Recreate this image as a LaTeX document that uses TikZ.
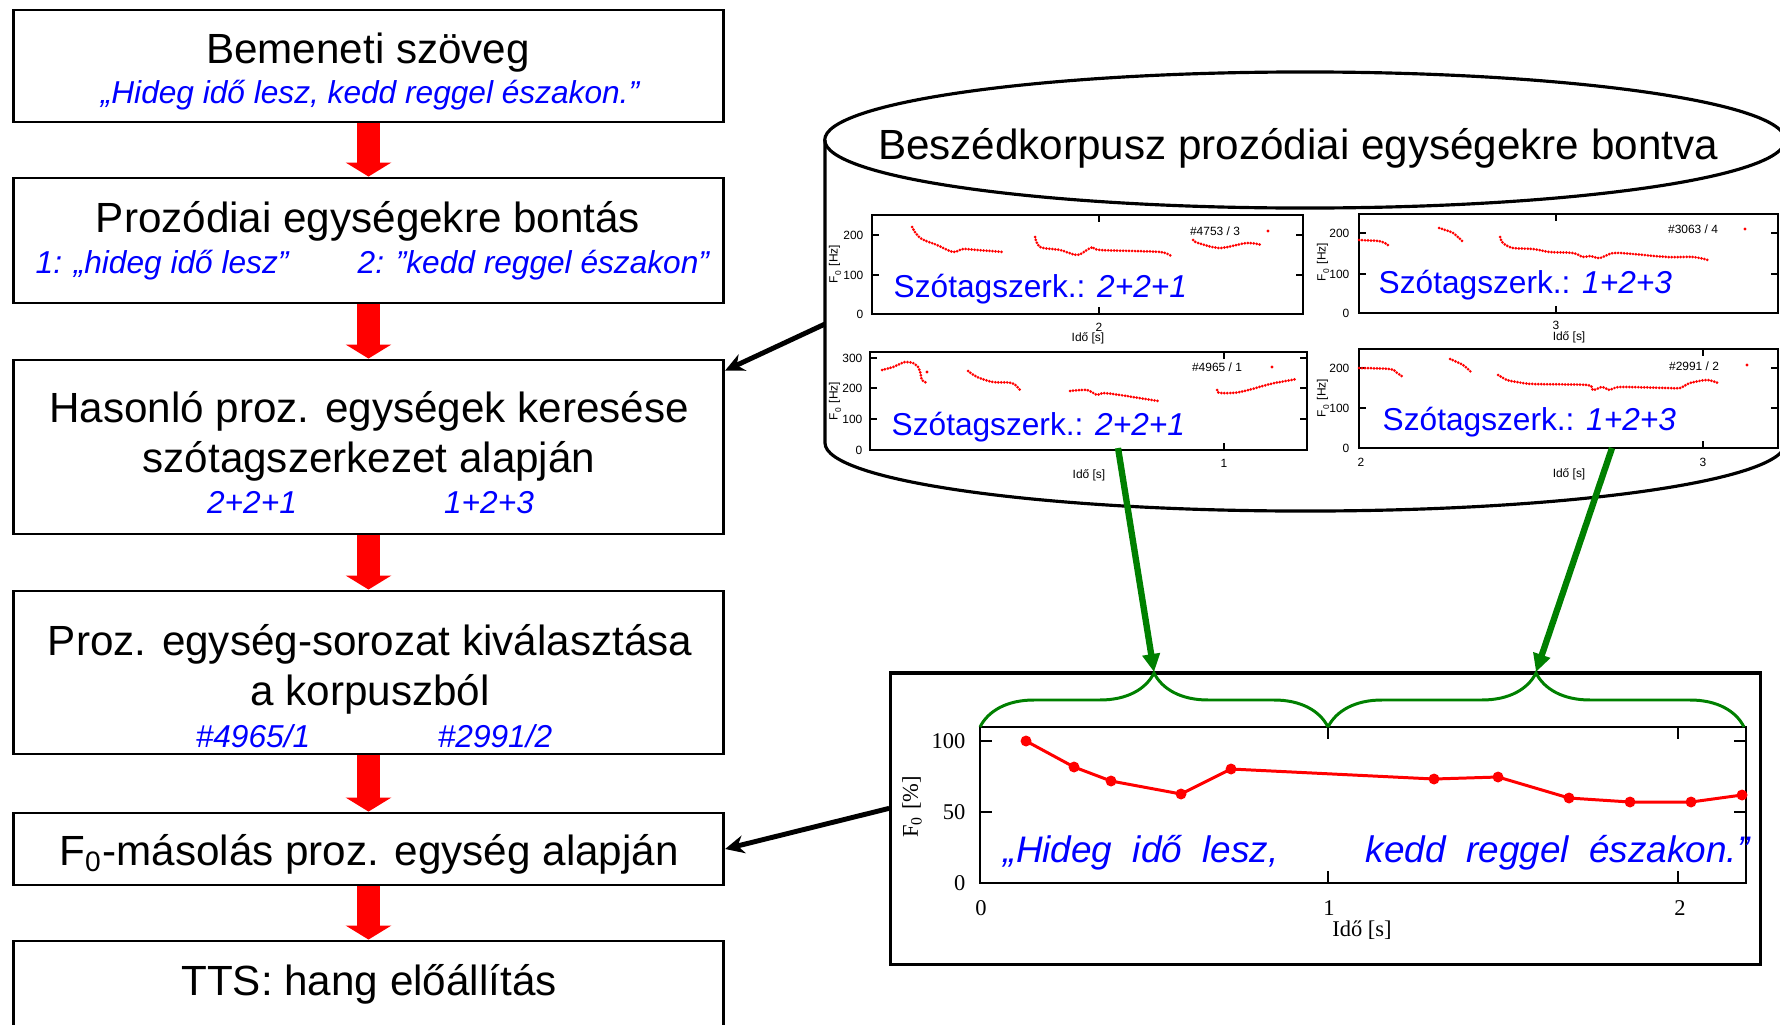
\documentclass[tikz,border=0pt]{standalone}
\usepackage{fontspec}
\setmainfont{Liberation Sans}
\newfontfamily\plotserif{Liberation Serif}
\usetikzlibrary{arrows.meta,decorations.pathreplacing,backgrounds,calc}

\begin{document}
\begin{tikzpicture}[x=0.01cm, y=-0.01cm,
 box/.style={draw, line width=0.8pt, minimum width=7.1cm, inner sep=0pt},
 boxtitle/.style={anchor=base, inner sep=0pt, font=\fontsize{12}{14}\selectfont},
 note/.style={anchor=base, inner sep=0pt, text=blue, font=\fontsize{9}{11}\selectfont\itshape},
 flow/.style={red, line width=0.23cm, -{Triangle[width=0.45cm,length=0.14cm]}},
 link/.style={line width=1.4pt, -{Stealth[length=0.19cm,width=0.18cm]}},
 pick/.style={green!50!black, line width=1.8pt, -{Triangle[length=0.18cm,width=0.17cm]}},
 pbox/.style={line width=0.45pt},
 reddots/.style={red, line width=0.85pt, dash pattern=on 0pt off 0.85pt, line cap=round},
 axlab/.style={inner sep=0pt, font=\fontsize{3.4}{4}\selectfont},
 syl/.style={anchor=base west, inner sep=0pt, text=blue, font=\fontsize{9}{11}\selectfont},
 serifax/.style={inner sep=0pt, font=\plotserif\fontsize{6.4}{7}\selectfont},
 brc/.style={green!50!black, line width=0.85pt, decorate, decoration={brace, amplitude=0.54cm}}]
\useasboundingbox (0,0) rectangle (1780,1024);
\clip (0,0) rectangle (1780,1024);

% folyamat
\node[box, minimum height=1.12cm] (b1) at (368.5,66) {};
\node[box, minimum height=1.25cm] (b2) at (368.5,240.5) {};
\node[box, minimum height=1.74cm] (b3) at (368.5,447) {};
\node[box, minimum height=1.63cm] (b4) at (368.5,672.5) {};
\node[box, minimum height=0.72cm] (b5) at (368.5,849) {};
\node[box, minimum height=1.04cm] (b6) at (368.5,993) {};

\node[boxtitle] (t1) at (368,63) {Bemeneti szöveg};
\node[note] (q1) at (370,103) {„Hideg idő lesz, kedd reggel északon.”};
\node[boxtitle] (t2) at (368,232) {Prozódiai egységekre bontás};
\node[note, anchor=base west] (q2a) at (35,273) {1: „hideg idő lesz”};
\node[note, anchor=base west] (q2b) at (357,273) {2: ”kedd reggel északon”};
\node[boxtitle] (t3a) at (369,422) {Hasonló proz. egységek keresése};
\node[boxtitle] (t3b) at (369,472) {szótagszerkezet alapján};
\node[note] (q3a) at (252,513) {2+2+1};
\node[note] (q3b) at (489,513) {1+2+3};
\node[boxtitle] (t4a) at (370,655) {Proz. egység-sorozat kiválasztása};
\node[boxtitle] (t4b) at (370,705) {a korpuszból};
\node[note] (q4a) at (253,747) {\#4965/1};
\node[note] (q4b) at (495,747) {\#2991/2};
\node[boxtitle] (t5) at (369,865) {F\textsubscript{0}-másolás proz. egység alapján};
\node[boxtitle] (t6) at (369,995) {TTS: hang előállítás};

\begin{scope}[on background layer]
\foreach \a/\b in {b1/b2,b2/b3,b3/b4,b4/b5,b5/b6}
  \draw[flow] (\a.south) -- (\b.north);
\end{scope}

% korpusz
\draw[line width=0.9pt] (1305,140) ellipse [x radius=4.8cm, y radius=0.68cm];
\draw[line width=0.9pt] (825,140) -- (825,443)
  arc [start angle=180, end angle=360, x radius=4.8cm, y radius=0.68cm] -- (1785,140);
\node[boxtitle] (kt) at (1298,159) {Beszédkorpusz prozódiai egységekre bontva};
\coordinate (kl) at (825,324);

% 1. minta
\draw[pbox] (872,215) rectangle (1303,314)
  (872,235) -- +(7,0) (872,275) -- +(7,0) (1303,235) -- +(-7,0) (1303,275) -- +(-7,0)
  (1099,215) -- +(0,7) (1099,314) -- +(0,-7);
\foreach \y/\t [count=\i] in {235/200,275/100,314/0}
  \node[axlab, anchor=east] (ya\i) at (864,\y) {\t};
\node[axlab, rotate=90] (fa) at (835,264) {F\textsubscript{0} [Hz]};
\node[axlab] (xa) at (1099,327) {2};
\node[axlab] (ia) at (1088,338) {Idő [s]};
\node[axlab] (ka) at (1215,231) {\#4753 / 3};
\fill[red] (1268,231) circle (0.45pt);
\draw[reddots] plot[smooth] coordinates {(912,227) (920,238) (937,245) (953,252) (963,249) (977,250) (1003,252)};
\draw[reddots] plot[smooth] coordinates {(1035,237) (1040,247) (1060,250) (1077,255) (1087,250) (1093,247) (1100,250) (1160,252) (1172,257)};
\draw[reddots] plot[smooth] coordinates {(1193,240) (1198,243) (1220,248) (1247,243) (1262,245)};
\node[syl] (sa) at (893,297) {Szótagszerk.: \textit{2+2+1}};

% 2. minta
\draw[pbox] (1359,214) rectangle (1778,313)
  (1359,233) -- +(7,0) (1359,274) -- +(7,0) (1778,233) -- +(-7,0) (1778,274) -- +(-7,0)
  (1556,214) -- +(0,7) (1556,313) -- +(0,-7);
\foreach \y/\t [count=\i] in {233/200,274/100,313/0}
  \node[axlab, anchor=east] (yb\i) at (1350,\y) {\t};
\node[axlab, rotate=90] (fb2) at (1323,262) {F\textsubscript{0} [Hz]};
\node[axlab] (xb) at (1556,325) {3};
\node[axlab] (ib) at (1569,337) {Idő [s]};
\node[axlab] (kb) at (1693,229) {\#3063 / 4};
\fill[red] (1745,229) circle (0.45pt);
\draw[reddots] plot[smooth] coordinates {(1359,240) (1378,241) (1385,243) (1390,247)};
\draw[reddots] plot[smooth] coordinates {(1439,228) (1453,233) (1463,242)};
\draw[reddots] plot[smooth] coordinates {(1500,237) (1503,243) (1513,248) (1533,249) (1550,252) (1573,253) (1583,257) (1590,256) (1600,258) (1613,253) (1633,254) (1667,257) (1693,257) (1708,260)};
\node[syl] (sb) at (1378,293) {Szótagszerk.: \textit{1+2+3}};

% 3. minta
\draw[pbox] (870,352) rectangle (1307,450)
  (870,358) -- +(7,0) (870,388) -- +(7,0) (870,419) -- +(7,0)
  (1307,358) -- +(-7,0) (1307,388) -- +(-7,0) (1307,419) -- +(-7,0)
  (1224,352) -- +(0,7) (1224,450) -- +(0,-7);
\foreach \y/\t [count=\i] in {358/300,388/200,419/100,450/0}
  \node[axlab, anchor=east] (yc\i) at (863,\y) {\t};
\node[axlab, rotate=90] (fc) at (835,401) {F\textsubscript{0} [Hz]};
\node[axlab] (xc) at (1224,463) {1};
\node[axlab] (ic) at (1089,475) {Idő [s]};
\node[axlab] (kc) at (1217,367) {\#4965 / 1};
\fill[red] (1272,367) circle (0.45pt);
\draw[reddots] plot[smooth] coordinates {(882,370) (893,367) (905,362) (913,363) (918,367) (920,371) (922,380) (927,383)};
\fill[red] (927,372) circle (0.45pt);
\draw[reddots] plot[smooth] coordinates {(968,371) (977,377) (993,382) (1012,383) (1020,390)};
\draw[reddots] plot[smooth] coordinates {(1070,391) (1087,390) (1097,395) (1103,393) (1120,395) (1158,401)};
\draw[reddots] plot[smooth] coordinates {(1217,390) (1220,393) (1240,392) (1270,384) (1280,382) (1297,379)};
\node[syl] (sc) at (891,435) {Szótagszerk.: \textit{2+2+1}};
\coordinate (g1) at (1118,448);

% 4. minta
\draw[pbox] (1359,349) rectangle (1778,448)
  (1359,368) -- +(7,0) (1359,408) -- +(7,0) (1778,368) -- +(-7,0) (1778,408) -- +(-7,0)
  (1703,349) -- +(0,7) (1703,448) -- +(0,-7);
\foreach \y/\t [count=\i] in {368/200,408/100,448/0}
  \node[axlab, anchor=east] (yd\i) at (1350,\y) {\t};
\node[axlab, rotate=90] (fd) at (1323,398) {F\textsubscript{0} [Hz]};
\node[axlab] (xd1) at (1361,462) {2};
\node[axlab] (xd2) at (1703,462) {3};
\node[axlab] (id) at (1569,474) {Idő [s]};
\node[axlab] (kd) at (1694,366) {\#2991 / 2};
\fill[red] (1747,365) circle (0.45pt);
\draw[reddots] plot[smooth] coordinates {(1359,368) (1390,369) (1397,373) (1403,377)};
\draw[reddots] plot[smooth] coordinates {(1450,359) (1463,365) (1472,373)};
\draw[reddots] plot[smooth] coordinates {(1498,375) (1507,380) (1517,382) (1533,384) (1587,385) (1593,390) (1602,387) (1610,390) (1620,387) (1667,388) (1680,388) (1690,383) (1707,380) (1718,383)};
\node[syl] (sd) at (1382,430) {Szótagszerk.: \textit{1+2+3}};
\coordinate (g2) at (1612,448);

% masolt F0
\node[draw, line width=0.9pt, minimum width=8.69cm, minimum height=2.91cm, inner sep=0pt] (fbox) at (1325.5,818.5) {};
\draw[line width=0.7pt] (980,727) rectangle (1746,883);
\foreach \y in {741,812}
  \draw[line width=0.7pt] (980,\y) -- +(12,0) (1746,\y) -- +(-12,0);
\foreach \x in {1328,1678}
  \draw[line width=0.7pt] (\x,727) -- +(0,12) (\x,883) -- +(0,-12);
\foreach \y/\t [count=\i] in {741/100,812/50,883/0}
  \node[serifax, anchor=east] (ye\i) at (966,\y) {\t};
\foreach \x/\t [count=\i] in {981/0,1329/1,1680/2}
  \node[serifax] (xe\i) at (\x,908) {\t};
\node[serifax] (ie) at (1362,930) {Idő [s]};
\node[serifax, rotate=90] (fe) at (912,807) {F\textsubscript{0} [\%]};
\draw[red, line width=0.85pt] plot[mark=*, mark size=1.1pt, mark options={fill=red}] coordinates {(1026,741) (1074,767) (1111,781) (1181,794) (1231,769) (1434,779) (1498,777) (1569,798) (1630,802) (1691,802) (1742,795)};
\node[anchor=base west, inner sep=0pt, text=blue, font=\fontsize{10.5}{12}\selectfont\itshape] (w1) at (1003,862) {„Hideg~ idő~ lesz,};
\node[anchor=base west, inner sep=0pt, text=blue, font=\fontsize{10.5}{12}\selectfont\itshape] (w2) at (1365,862) {kedd~ reggel~ északon.”};
\draw[brc] (980,727) -- (1328,727);
\draw[brc] (1328,727) -- (1744,727);
\coordinate (c1) at (1154,672);
\coordinate (c2) at (1536,672);
\coordinate (fl) at ($(fbox.north west)+(0,137)$);

% nyilak
\draw[link] (kl) -- ($(b3.north east)+(0,12)$);
\draw[link] (fl) -- (b5.east);
\draw[pick] (g1) -- (c1);
\draw[pick] (g2) -- (c2);
\end{tikzpicture}
\end{document}
